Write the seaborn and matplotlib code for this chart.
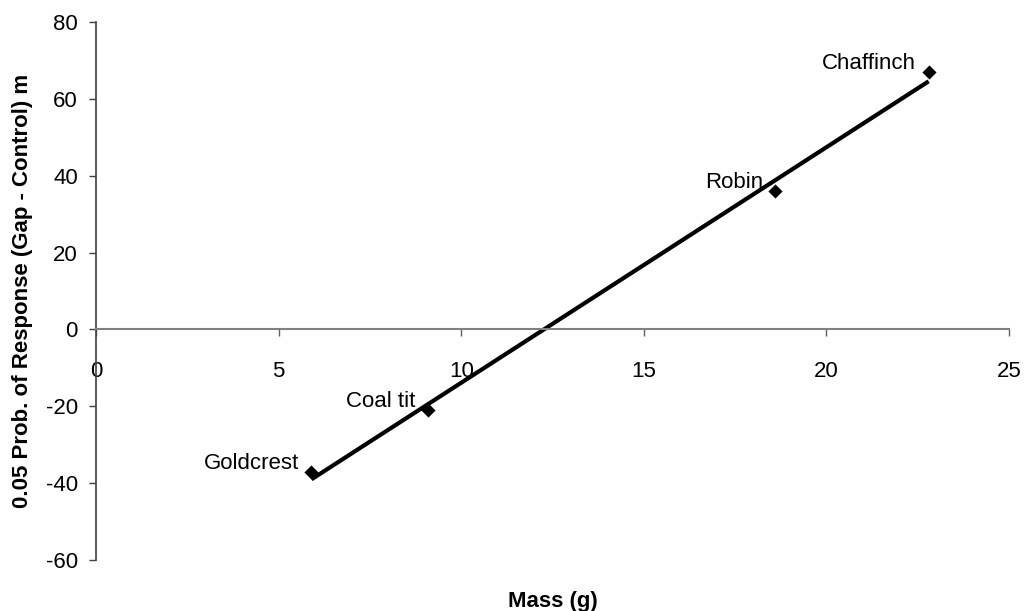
import matplotlib
matplotlib.use("Agg")
import matplotlib.pyplot as plt
import seaborn as sns
import pandas as pd

# Body mass vs. distance difference at 0.05 response probability
species = ["Goldcrest", "Coal tit", "Robin", "Chaffinch"]
mass_g = [5.9, 9.1, 18.6, 22.8]
response_diff_m = [-37.0, -21.0, 36.0, 67.0]
x_ticks = [0, 5, 10, 15, 20, 25]
y_ticks = [-60, -40, -20, 0, 20, 40, 60, 80]

sns.set_theme(style="ticks")
plt.rcParams["font.family"] = ["Liberation Sans", "DejaVu Sans"]
plt.rcParams["axes.unicode_minus"] = False

df = pd.DataFrame({"species": species, "mass": mass_g, "resp": response_diff_m})

fig = plt.figure(figsize=(10.24, 6.11), dpi=100)
ax = fig.add_axes([96 / 1024, 1 - 560 / 611, 913 / 1024, 538 / 611])

sns.regplot(
    data=df, x="mass", y="resp", ci=None, truncate=True, ax=ax,
    marker="D", color="black",
    scatter_kws=dict(s=52, linewidths=0, alpha=1, zorder=3),
    line_kws=dict(lw=3, alpha=1, zorder=2, solid_capstyle="butt"),
)

for name, xv, yv in zip(species, mass_g, response_diff_m):
    ax.annotate(name, (xv, yv), xytext=(-9, 6), textcoords="offset points",
                ha="right", va="center", fontsize=16, color="black")

ax.set_xlim(0, 25)
ax.set_ylim(-60, 80)
ax.set_xticks(x_ticks)
ax.set_yticks(y_ticks)

# axes cross at the origin
ax.spines["left"].set_position(("data", 0))
ax.spines["bottom"].set_position(("data", 0))
ax.spines["top"].set_visible(False)
ax.spines["right"].set_visible(False)
ax.spines["bottom"].set_color("#808080")
ax.spines["bottom"].set_linewidth(1.5)
ax.spines["left"].set_color("#404040")
ax.spines["left"].set_linewidth(1.2)

ax.tick_params(axis="x", direction="out", length=5, width=1, color="#606060",
               pad=18, labelsize=16, labelcolor="black")
ax.tick_params(axis="y", direction="out", length=5, width=1, color="#404040",
               pad=8, labelsize=16, labelcolor="black")

ax.set_xlabel("Mass (g)", fontsize=16, fontweight="bold", color="black")
ax.xaxis.set_label_coords(0.5, -0.057)
ax.set_ylabel("0.05 Prob. of Response (Gap - Control) m", fontsize=16,
              fontweight="bold", color="black")
ax.yaxis.set_label_coords(-0.069, 0.5)

fig.savefig("out.png", dpi=100)
